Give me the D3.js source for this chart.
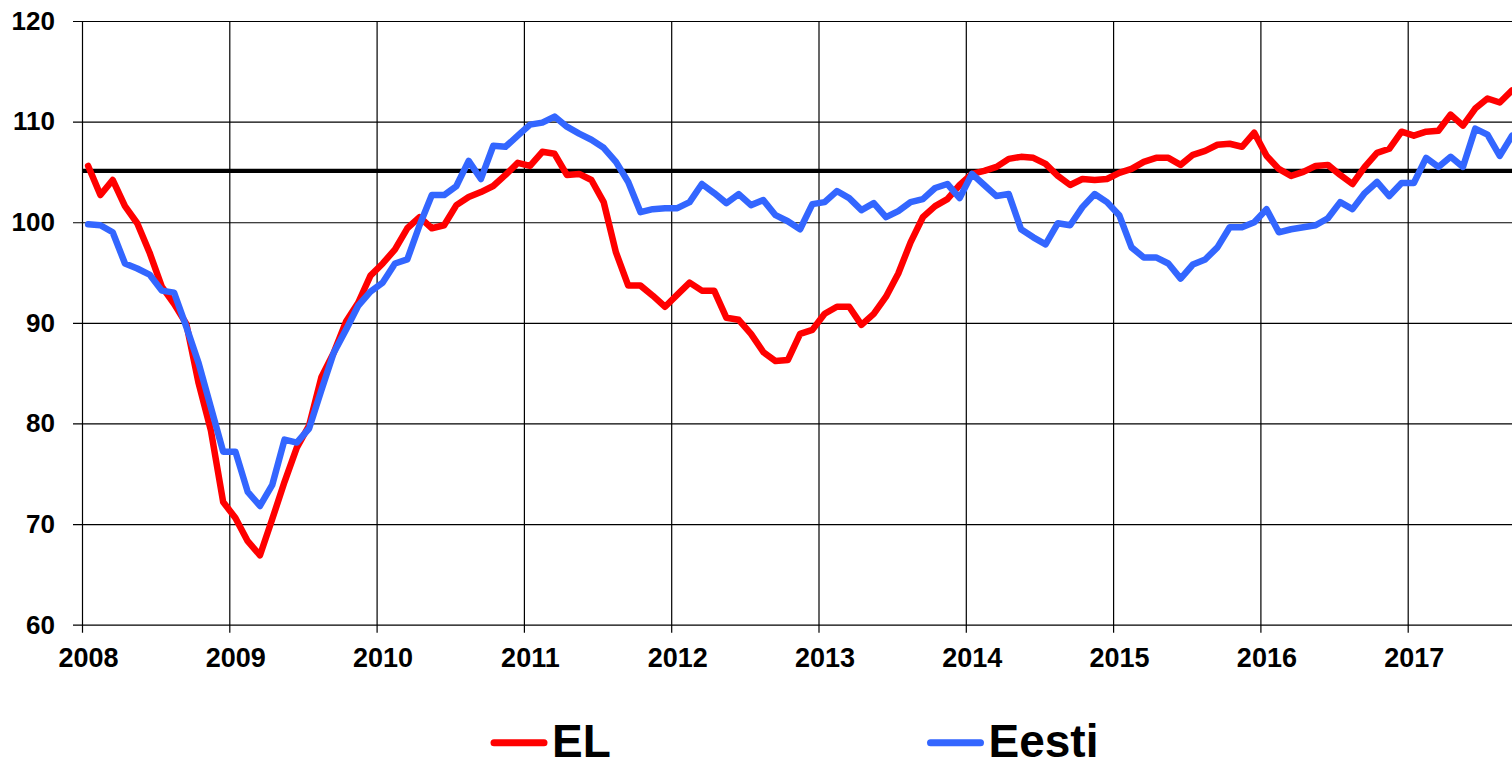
<!DOCTYPE html>
<html>
<head>
<meta charset="utf-8">
<script src="https://cdn.jsdelivr.net/npm/d3@7"></script>
<style>
  html, body { margin: 0; padding: 0; background: #fff; overflow: hidden; }
  svg { display: block; font-family: 'Liberation Sans', Arial, sans-serif; }
</style>
</head>
<body>
<div id="chart"></div>
<script>
// monthly values, Jan 2008 - Sep 2017
var yearTicks = [2008, 2009, 2010, 2011, 2012, 2013, 2014, 2015, 2016, 2017];
var valueTicks = [60, 70, 80, 90, 100, 110, 120];
var referenceLevel = 105.1;

var elValues = [
    105.6, 102.7, 104.2, 101.6, 99.9, 97.0, 93.6, 91.9, 89.9, 84.0, 79.3, 72.2,
    70.6, 68.3, 66.9, 70.5, 74.2, 77.6, 79.8, 84.6, 87.0, 90.1, 92.0, 94.7,
    95.9, 97.3, 99.4, 100.5, 99.4, 99.7, 101.7, 102.5, 103.0, 103.6, 104.7, 105.9,
    105.6, 107.0, 106.8, 104.7, 104.8, 104.2, 102.0, 97.0, 93.7, 93.7, 92.7, 91.6,
    92.8, 94.0, 93.2, 93.2, 90.5, 90.3, 88.9, 87.1, 86.2, 86.3, 88.9, 89.3,
    90.9, 91.6, 91.6, 89.8, 90.9, 92.6, 94.9, 98.0, 100.5, 101.6, 102.3, 103.7,
    104.8, 105.1, 105.5, 106.3, 106.5, 106.4, 105.8, 104.6, 103.7, 104.3, 104.2, 104.3,
    104.9, 105.3, 106.0, 106.4, 106.4, 105.7, 106.7, 107.1, 107.7, 107.8, 107.5, 108.9,
    106.6, 105.3, 104.6, 105.0, 105.6, 105.7, 104.7, 103.8, 105.5, 106.9, 107.3, 109.0,
    108.6, 109.0, 109.1, 110.7, 109.6, 111.3, 112.3, 111.9, 113.1
];

var eestiValues = [
    99.8, 99.7, 99.0, 95.9, 95.4, 94.8, 93.2, 93.0, 89.6, 86.0, 81.6, 77.2,
    77.2, 73.2, 71.8, 73.9, 78.4, 78.1, 79.5, 83.3, 87.0, 89.3, 91.7, 93.1,
    94.0, 95.9, 96.3, 99.7, 102.7, 102.7, 103.6, 106.1, 104.3, 107.6, 107.5, 108.6,
    109.7, 109.9, 110.5, 109.5, 108.8, 108.2, 107.4, 106.0, 104.0, 101.0, 101.3, 101.4,
    101.4, 102.0, 103.8, 102.9, 101.9, 102.8, 101.7, 102.2, 100.7, 100.1, 99.3, 101.8,
    102.0, 103.1, 102.4, 101.2, 101.9, 100.5, 101.1, 102.0, 102.3, 103.4, 103.8, 102.4,
    104.8, 103.7, 102.6, 102.8, 99.3, 98.5, 97.8, 99.9, 99.7, 101.5, 102.8, 102.0,
    100.7, 97.5, 96.5, 96.5, 95.9, 94.4, 95.8, 96.3, 97.5, 99.5, 99.5, 100.0,
    101.3, 99.0, 99.3, 99.5, 99.7, 100.4, 102.0, 101.3, 102.9, 104.0, 102.6, 103.9,
    103.9, 106.4, 105.5, 106.5, 105.5, 109.3, 108.7, 106.6, 108.6
];

var seriesNames = ['EL', 'Eesti'];
var seriesColors = ['#ff0000', '#3366ff'];

var width = 1512, height = 760;
var plotLeft = 82, plotTop = 21, plotBottom = 624.7;

var svg = d3.select('#chart')
    .append('svg')
    .attr('width', width)
    .attr('height', height);

// one year = 12 months of 12.275px, points sit at mid-month
var x = d3.scaleLinear()
    .domain([2008, 2018])
    .range([plotLeft, plotLeft + 120 * 12.275]);

var y = d3.scaleLinear()
    .domain([60, 120])
    .range([plotBottom, plotTop]);

//Horizontal grid + y labels
var yAxis = svg.append('g')
    .attr('transform', 'translate(' + (plotLeft - 9) + ',0)')
    .call(d3.axisLeft(y)
        .tickValues(valueTicks)
        .tickSize(-(width - plotLeft + 9))
        .tickPadding(18));
yAxis.select('.domain').remove();
yAxis.selectAll('line')
    .attr('stroke', '#000')
    .attr('stroke-width', 1.2);
yAxis.selectAll('text')
    .attr('fill', '#000')
    .style('font-size', '26px')
    .style('font-weight', 700);

//Vertical grid + year labels
var xAxis = svg.append('g')
    .attr('transform', 'translate(0,' + (plotBottom + 8) + ')')
    .call(d3.axisBottom(x)
        .tickValues(yearTicks)
        .tickFormat(d3.format('d'))
        .tickSize(-(plotBottom + 8 - plotTop))
        .tickPadding(15.5));
xAxis.select('.domain').remove();
xAxis.selectAll('line')
    .attr('stroke', '#000')
    .attr('stroke-width', 1.2);
xAxis.selectAll('text')
    .attr('fill', '#000')
    .attr('dx', 6)
    .style('font-size', '27px')
    .style('font-weight', 700);

//Reference line
svg.append('line')
    .attr('x1', plotLeft)
    .attr('x2', width)
    .attr('y1', y(referenceLevel))
    .attr('y2', y(referenceLevel))
    .attr('stroke', '#000')
    .attr('stroke-width', 4.2);

var line = d3.line()
    .x(function(d, i){ return x(2008 + (i + 0.5) / 12); })
    .y(function(d){ return y(d); });

svg.selectAll('.series')
    .data([elValues, eestiValues])
    .enter()
    .append('path')
    .attr('class', 'series')
    .attr('d', line)
    .attr('fill', 'none')
    .attr('stroke', function(d, i){ return seriesColors[i]; })
    .attr('stroke-width', 6.5)
    .attr('stroke-linejoin', 'round')
    .attr('stroke-linecap', 'round');

//Legend
var legendX = [494, 930.5];
var legend = svg.selectAll('.legend')
    .data(seriesNames)
    .enter()
    .append('g')
    .attr('class', 'legend')
    .attr('transform', function(d, i){ return 'translate(' + legendX[i] + ',742.7)'; });

legend.append('line')
    .attr('x1', 0)
    .attr('x2', 50)
    .attr('stroke', function(d, i){ return seriesColors[i]; })
    .attr('stroke-width', 7)
    .attr('stroke-linecap', 'round');

legend.append('text')
    .attr('x', 58)
    .attr('y', 14)
    .style('font-size', '46px')
    .style('font-weight', 700)
    .attr('fill', '#000')
    .text(function(d){ return d; });
</script>
</body>
</html>
